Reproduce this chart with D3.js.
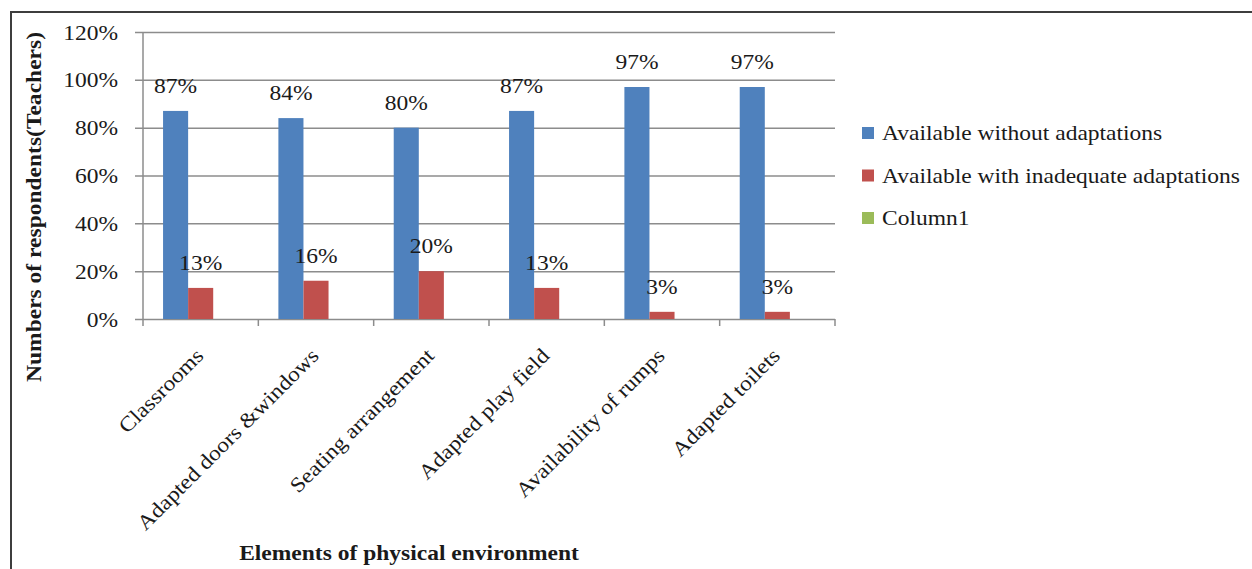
<!DOCTYPE html>
<html>
  <head>
    <meta charset="utf-8" />
    <script src="https://d3js.org/d3.v7.min.js"></script>
    <style>
      body { margin: 0px; background: #fff; }
      text { font-family: "Liberation Serif", "Times New Roman", serif; fill: #1a1a1a; }
      .grid line { stroke: #8c8c8c; stroke-width: 1.5; }
      .domain { display: none; }
    </style>
  </head>
  <body>
    <svg width="1252" height="569"></svg>
    <script>
      // chart data
      const categories = ["Classrooms", "Adapted doors &windows", "Seating arrangement",
        "Adapted play field", "Availability of rumps", "Adapted toilets"];
      const seriesNames = ["Available without adaptations", "Available with inadequate  adaptations", "Column1"];
      const withoutAdapt = [0.87, 0.84, 0.80, 0.87, 0.97, 0.97];
      const inadequateAdapt = [0.13, 0.16, 0.20, 0.13, 0.03, 0.03];
      const column1 = [null, null, null, null, null, null];
      const yTicks = [0, 0.2, 0.4, 0.6, 0.8, 1.0, 1.2];
      const colors = ["#4f81bd", "#c0504d", "#9bbb59"];

      // the original text is set a bit wider than normal Times
      const SX = 1.12;

      const svg = d3.select("svg");
      const margin = { left: 143, top: 32, right: 417, bottom: 250 };
      const innerWidth = 1252 - margin.left - margin.right;
      const innerHeight = 569 - margin.top - margin.bottom;

      // outer frame
      svg.append("path")
        .attr("d", "M11,569 L11,12 L1252,12")
        .attr("fill", "none")
        .attr("stroke", "#3d3d3d")
        .attr("stroke-width", 2);

      const g = svg.append("g").attr("transform", `translate(${margin.left},${margin.top})`);

      const x = d3.scaleBand().domain(categories).range([0, innerWidth]);
      const xSub = d3.scaleBand().domain(d3.range(3)).range([0, x.bandwidth()]).paddingOuter(0.8).paddingInner(0);
      const y = d3.scaleLinear().domain([0, 1.2]).range([innerHeight, 0]);

      // gridlines + y axis
      const yAxis = d3.axisLeft(y)
        .tickValues(yTicks)
        .tickFormat(d3.format(".0%"))
        .tickSize(-innerWidth);
      const yG = g.append("g").attr("class", "grid").call(yAxis);
      yG.selectAll(".tick line").attr("x1", -8).attr("x2", innerWidth);
      yG.selectAll(".tick text")
        .attr("x", null)
        .attr("dy", "0.34em")
        .attr("transform", `translate(-25,0) scale(${SX},1)`)
        .style("font-size", "21px");

      // y axis line
      g.append("line")
        .attr("x1", 0).attr("x2", 0).attr("y1", 0).attr("y2", innerHeight)
        .attr("stroke", "#8c8c8c").attr("stroke-width", 1.5);

      // x axis ticks at band boundaries
      const boundaries = categories.map(c => x(c)).concat([innerWidth]);
      g.selectAll(".xtick")
        .data(boundaries)
        .join("line")
        .attr("x1", d => d).attr("x2", d => d)
        .attr("y1", innerHeight).attr("y2", innerHeight + 7)
        .attr("stroke", "#8c8c8c").attr("stroke-width", 1.5);

      // bars + data labels
      const series = [withoutAdapt, inadequateAdapt, column1];
      series.forEach((vals, si) => {
        const rows = vals.map((v, i) => ({ cat: categories[i], v }));
        const valid = rows.filter(d => d.v !== null);
        g.selectAll(".bar" + si)
          .data(valid)
          .join("rect")
          .attr("x", d => x(d.cat) + xSub(si))
          .attr("y", d => y(d.v))
          .attr("width", xSub.bandwidth())
          .attr("height", d => innerHeight - y(d.v))
          .attr("fill", colors[si]);
        g.selectAll(".lab" + si)
          .data(valid)
          .join("text")
          .attr("transform", d => `translate(${x(d.cat) + xSub(si) + xSub.bandwidth() / 2},${y(d.v) - 18}) scale(${SX},1)`)
          .attr("text-anchor", "middle")
          .style("font-size", "21px")
          .text(d => Math.round(d.v * 100) + "%");
      });

      // category labels
      g.selectAll(".xlab")
        .data(categories)
        .join("text")
        .attr("text-anchor", "end")
        .attr("transform", d => `translate(${x(d) + x.bandwidth() / 2 + 4},${innerHeight + 38}) rotate(-45) scale(${SX},1)`)
        .style("font-size", "21px")
        .text(d => d);

      // axis titles
      svg.append("text")
        .attr("transform", `translate(409,560) scale(${SX},1)`)
        .attr("text-anchor", "middle")
        .style("font-size", "21px").style("font-weight", "bold")
        .text("Elements of physical environment");
      svg.append("text")
        .attr("transform", `translate(41,207) rotate(-90) scale(${SX},1)`)
        .attr("text-anchor", "middle")
        .style("font-size", "21px").style("font-weight", "bold")
        .text("Numbers of respondents(Teachers)");

      // legend
      const legend = svg.append("g").attr("transform", "translate(862,133)");
      seriesNames.forEach((name, i) => {
        legend.append("rect")
          .attr("x", 0).attr("y", i * 42.5 - 6)
          .attr("width", 12).attr("height", 12)
          .attr("fill", colors[i]);
        legend.append("text")
          .attr("transform", `translate(20,${i * 42.5}) scale(${SX},1)`)
          .attr("dy", "0.35em")
          .style("font-size", "21px")
          .text(name);
      });
    </script>
  </body>
</html>
